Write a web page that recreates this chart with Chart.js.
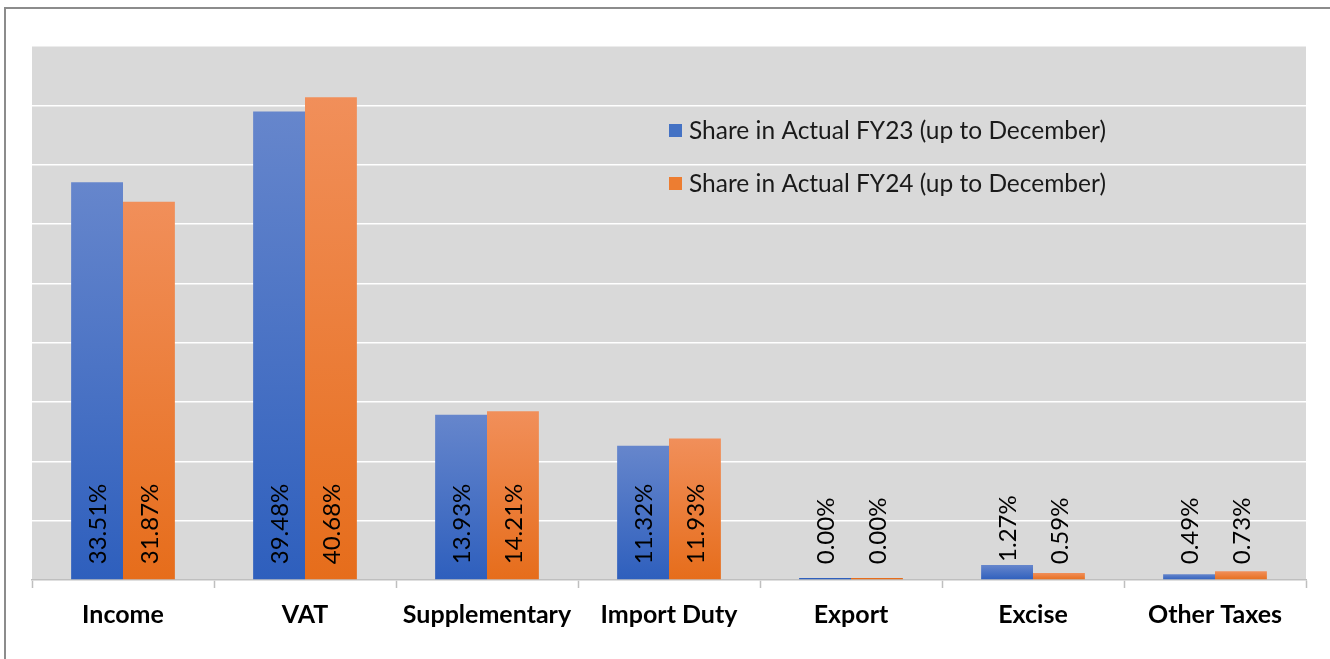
<!DOCTYPE html>
<html>
<head>
<meta charset="utf-8">
<script src="https://cdn.jsdelivr.net/npm/chart.js@4/dist/chart.umd.min.js"></script>
<style>
    html, body { margin: 0; padding: 0; background: #ffffff; }
    #wrap { position: relative; width: 1330px; height: 659px; overflow: hidden; }
    #frame {
        position: absolute; top: 7px; left: 4px; right: -4px; bottom: -4px;
        border-top: 2px solid #8c8c8c; border-left: 2px solid #8c8c8c;
    }
</style>
</head>
<body>
<div id="wrap">
    <div id="frame"></div>
    <canvas id="shareChart"></canvas>
</div>
<script>
// ===================================
// Data
// ===================================
const categories = ['Income', 'VAT', 'Supplementary', 'Import Duty', 'Export', 'Excise', 'Other Taxes'];
const shareFY23 = [33.51, 39.48, 13.93, 11.32, 0.00, 1.27, 0.49];
const shareFY24 = [31.87, 40.68, 14.21, 11.93, 0.00, 0.59, 0.73];
const seriesLabels = ['Share in Actual FY23 (up to December)', 'Share in Actual FY24 (up to December)'];

const FONT = 'Lato, "Open Sans", sans-serif';

/**
 * Vertical gradient per bar: lighter at top, darker at base
 */
function barGradient(topColor, bottomColor, solid) {
    return function(ctx) {
        const chart = ctx.chart;
        if (!chart.chartArea || ctx.type !== 'data') return solid;
        const y = chart.scales.y;
        const top = y.getPixelForValue(ctx.raw);
        const base = y.getPixelForValue(0);
        if (base - top < 1) return bottomColor;
        const g = chart.ctx.createLinearGradient(0, top, 0, base);
        g.addColorStop(0, topColor);
        g.addColorStop(1, bottomColor);
        return g;
    };
}

// Gray plot background
const plotBackground = {
    id: 'plotBackground',
    beforeDraw(chart) {
        const a = chart.chartArea;
        const c = chart.ctx;
        c.save();
        c.fillStyle = '#d9d9d9';
        c.fillRect(a.left, a.top, a.right - a.left, a.bottom - a.top);
        c.restore();
    }
};

// Rotated value labels at the bar base (above the bar if it is too short)
const valueLabels = {
    id: 'valueLabels',
    afterDatasetsDraw(chart) {
        const c = chart.ctx;
        c.save();
        c.font = '24px ' + FONT;
        c.fillStyle = '#000000';
        c.textAlign = 'left';
        c.textBaseline = 'middle';
        chart.data.datasets.forEach((ds, i) => {
            chart.getDatasetMeta(i).data.forEach((el, j) => {
                let start = el.base - 15;
                if (el.base - el.y < 40) start = Math.min(start, el.y - 3);
                c.save();
                c.translate(el.x + 1, start);
                c.rotate(-Math.PI / 2);
                c.fillText(ds.data[j].toFixed(2) + '%', 0, 0);
                c.restore();
            });
        });
        c.restore();
    }
};

// Legend drawn inside the plot area
const insideLegend = {
    id: 'insideLegend',
    afterDraw(chart) {
        const c = chart.ctx;
        const colors = ['#4472c4', '#ed7d31'];
        c.save();
        c.font = '24.5px ' + FONT;
        c.textBaseline = 'middle';
        c.textAlign = 'left';
        chart.data.datasets.forEach((ds, i) => {
            const y = 131 + i * 53;
            c.fillStyle = colors[i];
            c.fillRect(669, y - 7, 13, 13);
            c.fillStyle = '#1a1a1a';
            c.fillText(ds.label, 689, y);
        });
        c.restore();
    }
};

new Chart(document.getElementById('shareChart'), {
    type: 'bar',
    data: {
        labels: categories,
        datasets: [
            {
                label: seriesLabels[0],
                data: shareFY23,
                backgroundColor: barGradient('#6686cc', '#2e5fbd', '#4472c4'),
                borderWidth: 0,
                minBarLength: 2,
                barPercentage: 1.0,
                categoryPercentage: 0.57
            },
            {
                label: seriesLabels[1],
                data: shareFY24,
                backgroundColor: barGradient('#f18f5a', '#e66d1b', '#ed7d31'),
                borderWidth: 0,
                minBarLength: 2,
                barPercentage: 1.0,
                categoryPercentage: 0.57
            }
        ]
    },
    options: {
        responsive: true,
        maintainAspectRatio: false,
        animation: false,
        layout: {
            padding: { left: 32, right: 24, top: 46, bottom: 17 }
        },
        plugins: {
            legend: { display: false },
            tooltip: { enabled: false }
        },
        scales: {
            x: {
                grid: {
                    drawOnChartArea: false,
                    drawTicks: true,
                    tickLength: 8,
                    tickColor: '#bfbfbf',
                    tickWidth: 1.5
                },
                border: { display: true, color: '#bfbfbf', width: 1.5 },
                ticks: {
                    color: '#000000',
                    padding: 12,
                    font: { family: FONT, size: 25, weight: 'bold' }
                }
            },
            y: {
                min: 0,
                max: 45,
                ticks: { display: false, stepSize: 5 },
                grid: { color: '#ffffff', lineWidth: 1.5, drawTicks: false },
                border: { display: false }
            }
        }
    },
    plugins: [plotBackground, valueLabels, insideLegend]
});
</script>
</body>
</html>
